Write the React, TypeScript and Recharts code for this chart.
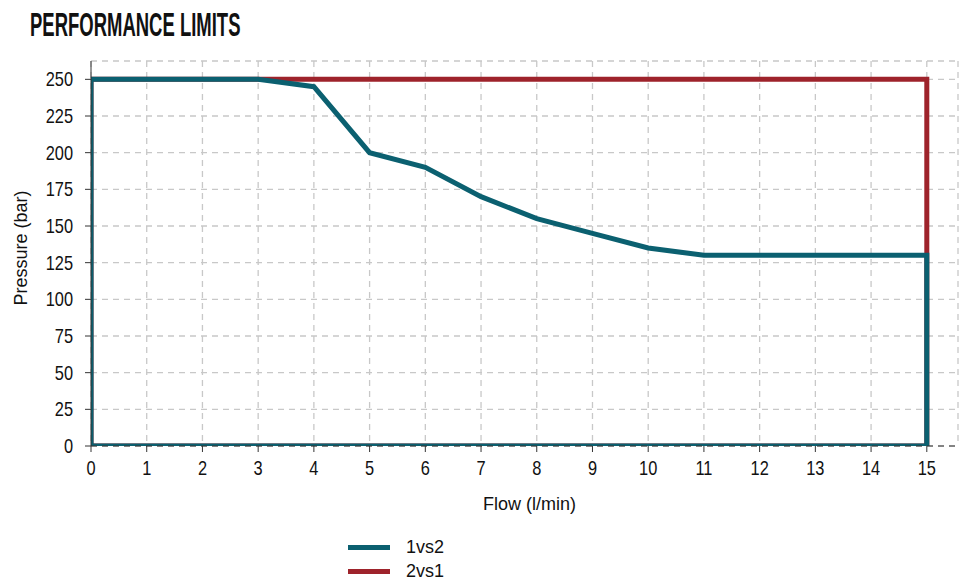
import React from "react";
import { LineChart, Line, XAxis, YAxis, CartesianGrid } from "recharts";

// flow (l/min) / pressure (bar) outlines, drawn as closed paths
const flow1vs2 = [0, 0, 3, 4, 5, 6, 7, 8, 9, 10, 11, 15, 15, 0];
const pressure1vs2 = [0, 250, 250, 245, 200, 190, 170, 155, 145, 135, 130, 130, 0, 0];
const flow2vs1 = [0, 0, 15, 15, 0];
const pressure2vs1 = [0, 250, 250, 0, 0];

const xTicks = [0, 1, 2, 3, 4, 5, 6, 7, 8, 9, 10, 11, 12, 13, 14, 15];
const yTicks = [0, 25, 50, 75, 100, 125, 150, 175, 200, 225, 250];

const toPoints = (xs: number[], ys: number[]) => xs.map((x, i) => ({ flow: x, pressure: ys[i] }));

const series = [
  { name: "1vs2", color: "#0b6070", data: toPoints(flow1vs2, pressure1vs2) },
  { name: "2vs1", color: "#9e232b", data: toPoints(flow2vs1, pressure2vs1) },
];

const font = "'Liberation Sans', Arial, sans-serif";
const NARROW = 0.82;

// narrow-looking tick labels (no Arial Narrow available)
const XTick = (props: any) => {
  const { x, y, payload } = props;
  return (
    <g transform={`translate(${x},${y})`}>
      <text transform={`scale(${NARROW},1)`} textAnchor="middle" dy={21} fontSize={20} fill="#111" fontFamily={font}>
        {payload.value}
      </text>
    </g>
  );
};

const YTick = (props: any) => {
  const { x, y, payload } = props;
  return (
    <g transform={`translate(${x - 10},${y})`}>
      <text transform={`scale(${NARROW},1)`} textAnchor="end" dy={7} fontSize={20} fill="#111" fontFamily={font}>
        {payload.value}
      </text>
    </g>
  );
};

export default function App() {
  return (
    <div style={{ position: "relative", width: 960, height: 586, background: "#fff", fontFamily: font }}>
      <style>{`body{margin:0}`}</style>
      <div
        style={{
          position: "absolute",
          left: 30,
          top: 6,
          fontSize: 33,
          fontWeight: 700,
          color: "#111",
          fontFamily: font,
          whiteSpace: "nowrap",
          transform: "scaleX(0.56)",
          transformOrigin: "left top",
        }}
      >
        PERFORMANCE LIMITS
      </div>
      <LineChart width={960} height={586} margin={{ top: 61, right: 2, left: 31, bottom: 80 }}>
        <CartesianGrid stroke="#c8c8c8" strokeDasharray="6 5" strokeWidth={1.3} />
        <XAxis
          type="number"
          dataKey="flow"
          domain={[0, 15.56]}
          ticks={xTicks}
          allowDataOverflow
          tick={<XTick />}
          tickLine={{ stroke: "#333" }}
          tickSize={6}
          axisLine={{ stroke: "#333", strokeDasharray: "6 5" }}
          height={60}
          label={{ value: "Flow (l/min)", position: "insideBottom", offset: -4, dx: 5, fontSize: 18, fill: "#111", fontFamily: font }}
        />
        <YAxis
          type="number"
          dataKey="pressure"
          domain={[0, 262.5]}
          ticks={yTicks}
          allowDataOverflow
          tick={<YTick />}
          tickLine={{ stroke: "#333" }}
          tickSize={6}
          axisLine={{ stroke: "#333" }}
          width={60}
          label={{ value: "Pressure (bar)", angle: -90, position: "insideLeft", offset: 0, dx: -10, dy: 52, fontSize: 18, fill: "#111", fontFamily: font }}
        />
        {[...series].reverse().map((s) => (
          <Line
            key={s.name}
            name={s.name}
            data={s.data}
            dataKey="pressure"
            type="linear"
            stroke={s.color}
            strokeWidth={5}
            dot={false}
            activeDot={false}
            isAnimationActive={false}
          />
        ))}
      </LineChart>
      <div style={{ position: "absolute", left: 348, top: 535, fontSize: 18, color: "#111", fontFamily: font }}>
        {series.map((s) => (
          <div key={s.name} style={{ display: "flex", alignItems: "center", height: 24 }}>
            <span style={{ display: "inline-block", width: 42, height: 5, background: s.color, marginRight: 16 }} />
            <span>{s.name}</span>
          </div>
        ))}
      </div>
    </div>
  );
}
